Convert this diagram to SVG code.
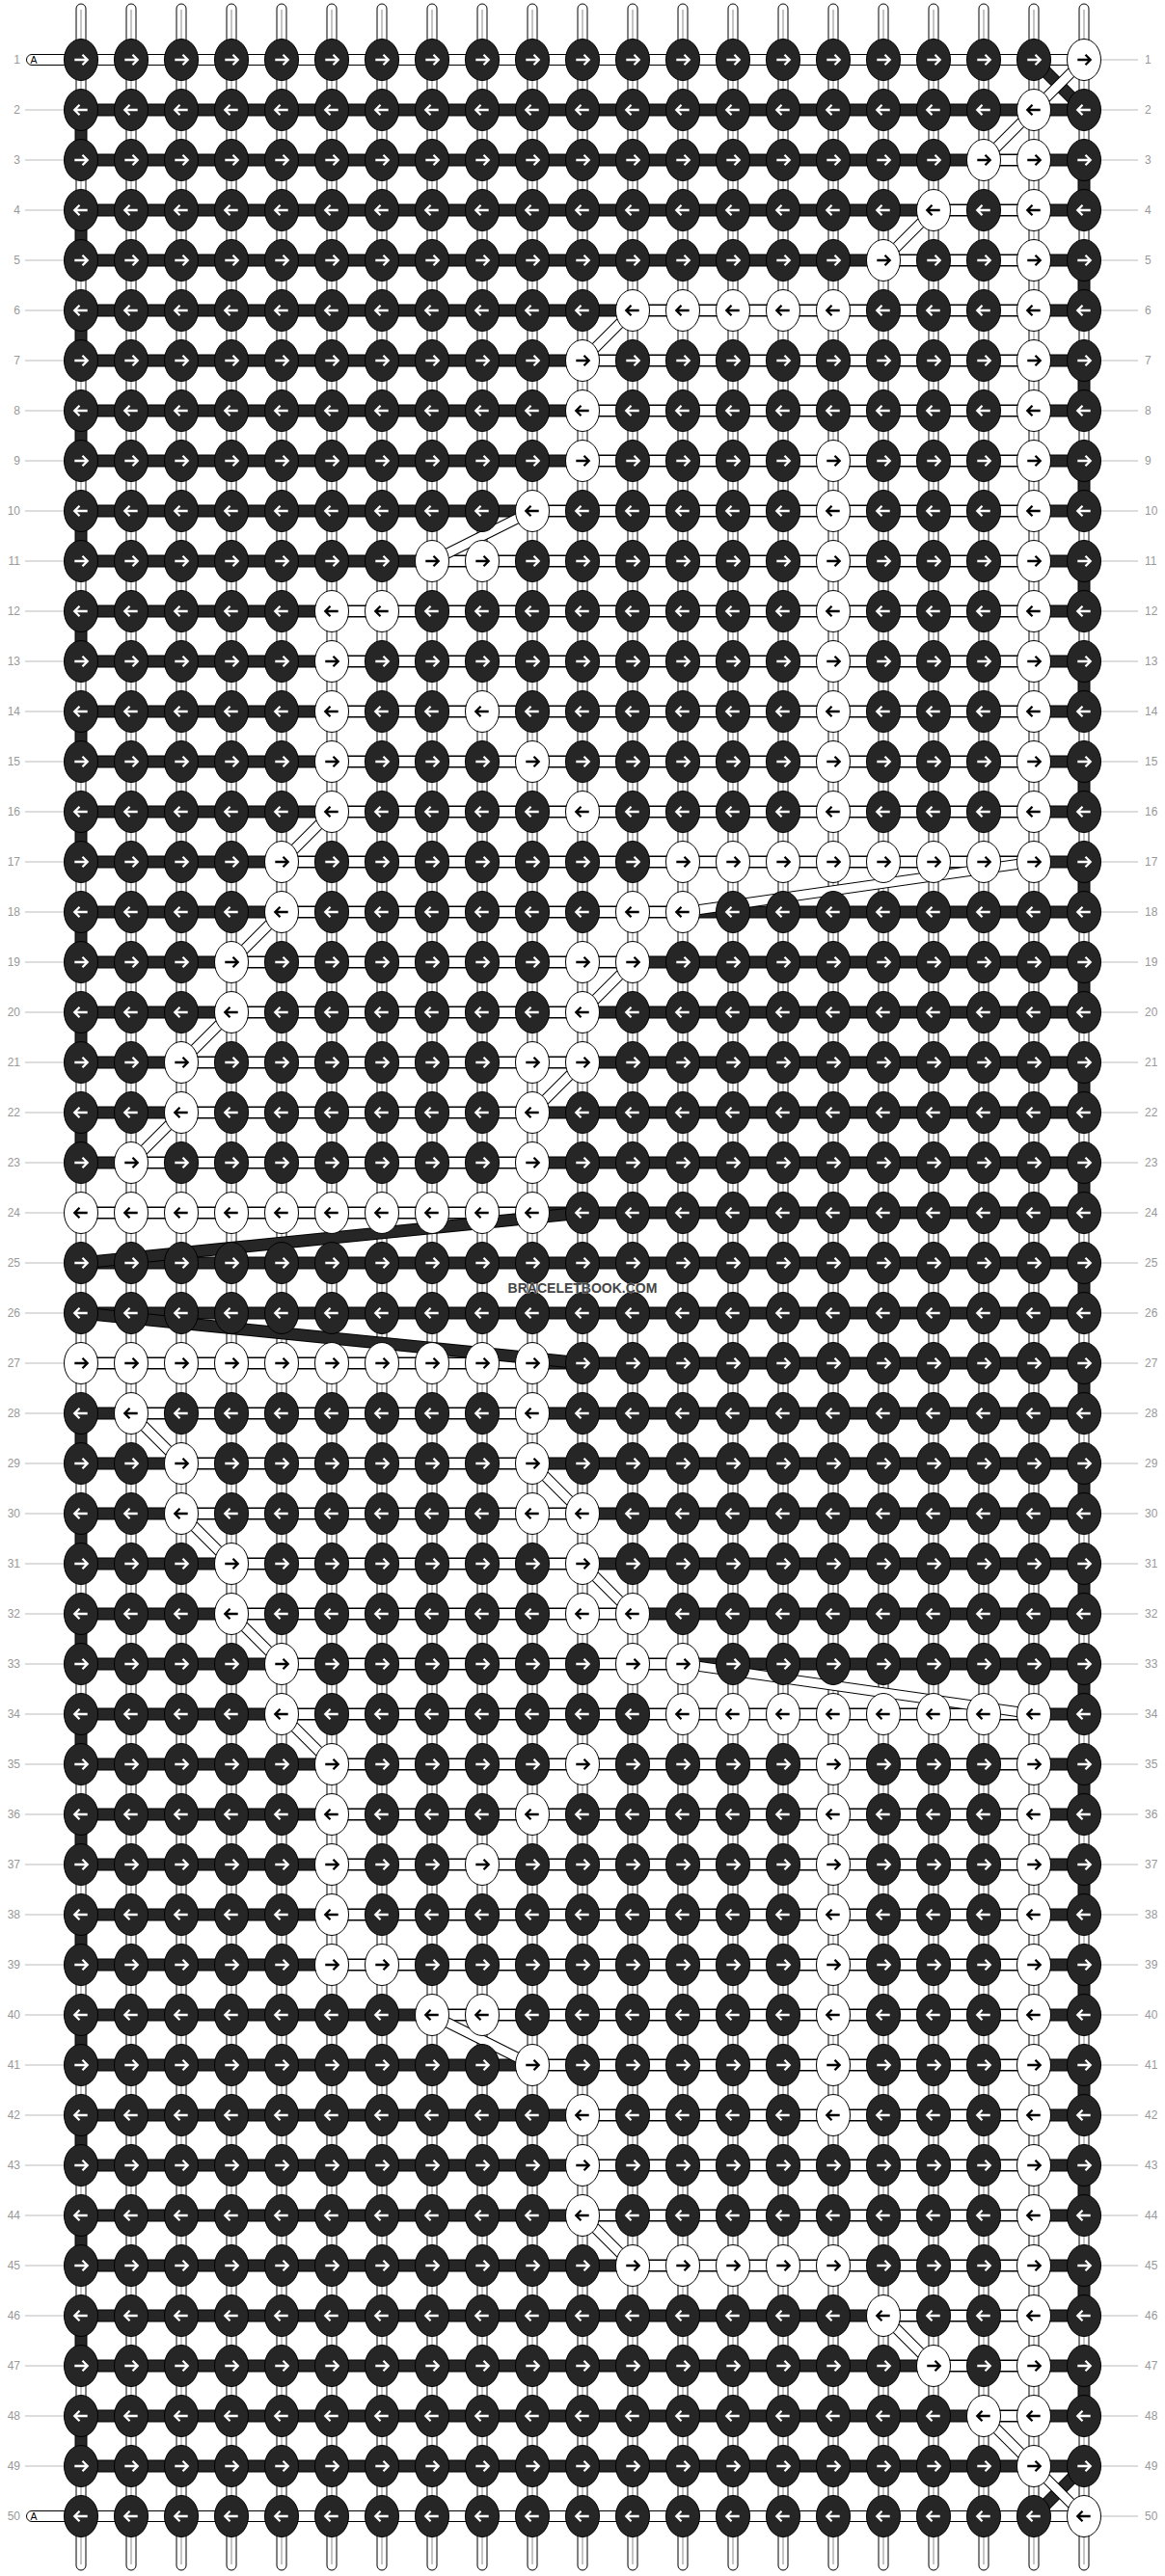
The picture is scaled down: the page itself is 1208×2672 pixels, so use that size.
<svg xmlns="http://www.w3.org/2000/svg" xmlns:xlink="http://www.w3.org/1999/xlink" width="1208" height="2672" viewBox="0 0 1208 2672">
<style>
.lbl{font-family:"Liberation Sans",Arial,sans-serif;font-size:12px;fill:#999}
.lr{text-anchor:end}
.gl{stroke:#bbb;stroke-width:1}
.kb{fill:#262626;stroke:#000;stroke-width:1}
.kw{fill:#fff;stroke:#000;stroke-width:1}
.aw{fill:none;stroke:#fff;stroke-width:2.3}
.ab{fill:none;stroke:#000;stroke-width:2.3}
.vs{fill:#fff;stroke:#000;stroke-width:1}
.vg{stroke:#c4c4c4;stroke-width:2}
.hb{fill:#262626;stroke:#000;stroke-width:1}
.hw{fill:#fff;stroke:#000;stroke-width:1}
.eb{fill:#262626;stroke:#000;stroke-width:1}
.dbo{stroke:#000;stroke-width:13;fill:none}
.dbi{stroke:#262626;stroke-width:11;fill:none}
.dwo{stroke:#000;stroke-width:11;fill:none}
.dwi{stroke:#fff;stroke-width:9;fill:none}
</style>
<defs>
<g id="bR"><ellipse rx="17.5" ry="21.5" class="kb"/><path d="M-6.7 0H6.2M1.5-5.2L6.7 0L1.5 5.2" class="aw"/></g>
<g id="bL"><ellipse rx="17.5" ry="21.5" class="kb"/><path d="M6.7 0H-6.2M-1.5-5.2L-6.7 0L-1.5 5.2" class="aw"/></g>
<g id="wR"><ellipse rx="17.5" ry="21.5" class="kw"/><path d="M-6.7 0H6.2M1.5-5.2L6.7 0L1.5 5.2" class="ab"/></g>
<g id="wL"><ellipse rx="17.5" ry="21.5" class="kw"/><path d="M6.7 0H-6.2M-1.5-5.2L-6.7 0L-1.5 5.2" class="ab"/></g>
</defs>
<rect width="1208" height="2672" fill="#fff"/>
<g id="labels">
<rect x="27.5" y="56.5" width="50" height="11" rx="5.5" class="hw"/>
<text x="31.5" y="66" font-family="Liberation Sans,Arial,sans-serif" font-size="10.5" fill="#000">A</text>
<rect x="27.5" y="2604.5" width="50" height="11" rx="5.5" class="hw"/>
<text x="31.5" y="2614" font-family="Liberation Sans,Arial,sans-serif" font-size="10.5" fill="#000">A</text>
<g class="gl">
<path d="M26 114H66M26 166H66M26 218H66M26 270H66M26 322H66M26 374H66M26 426H66M26 478H66M26 530H66M26 582H66M26 634H66M26 686H66M26 738H66M26 790H66M26 842H66M26 894H66M26 946H66M26 998H66M26 1050H66M26 1102H66M26 1154H66M26 1206H66M26 1258H66M26 1310H66M26 1362H66M26 1414H66M26 1466H66M26 1518H66M26 1570H66M26 1622H66M26 1674H66M26 1726H66M26 1778H66M26 1830H66M26 1882H66M26 1934H66M26 1986H66M26 2038H66M26 2090H66M26 2142H66M26 2194H66M26 2246H66M26 2298H66M26 2350H66M26 2402H66M26 2454H66M26 2506H66M26 2558H66"/>
<path d="M1142 62H1180M1142 114H1180M1142 166H1180M1142 218H1180M1142 270H1180M1142 322H1180M1142 374H1180M1142 426H1180M1142 478H1180M1142 530H1180M1142 582H1180M1142 634H1180M1142 686H1180M1142 738H1180M1142 790H1180M1142 842H1180M1142 894H1180M1142 946H1180M1142 998H1180M1142 1050H1180M1142 1102H1180M1142 1154H1180M1142 1206H1180M1142 1258H1180M1142 1310H1180M1142 1362H1180M1142 1414H1180M1142 1466H1180M1142 1518H1180M1142 1570H1180M1142 1622H1180M1142 1674H1180M1142 1726H1180M1142 1778H1180M1142 1830H1180M1142 1882H1180M1142 1934H1180M1142 1986H1180M1142 2038H1180M1142 2090H1180M1142 2142H1180M1142 2194H1180M1142 2246H1180M1142 2298H1180M1142 2350H1180M1142 2402H1180M1142 2454H1180M1142 2506H1180M1142 2558H1180M1142 2610H1180"/>
</g>
<g class="lbl lr">
<text x="21" y="66">1</text><text x="21" y="118">2</text><text x="21" y="170">3</text><text x="21" y="222">4</text><text x="21" y="274">5</text><text x="21" y="326">6</text><text x="21" y="378">7</text><text x="21" y="430">8</text><text x="21" y="482">9</text><text x="21" y="534">10</text>
<text x="21" y="586">11</text><text x="21" y="638">12</text><text x="21" y="690">13</text><text x="21" y="742">14</text><text x="21" y="794">15</text><text x="21" y="846">16</text><text x="21" y="898">17</text><text x="21" y="950">18</text><text x="21" y="1002">19</text><text x="21" y="1054">20</text>
<text x="21" y="1106">21</text><text x="21" y="1158">22</text><text x="21" y="1210">23</text><text x="21" y="1262">24</text><text x="21" y="1314">25</text><text x="21" y="1366">26</text><text x="21" y="1418">27</text><text x="21" y="1470">28</text><text x="21" y="1522">29</text><text x="21" y="1574">30</text>
<text x="21" y="1626">31</text><text x="21" y="1678">32</text><text x="21" y="1730">33</text><text x="21" y="1782">34</text><text x="21" y="1834">35</text><text x="21" y="1886">36</text><text x="21" y="1938">37</text><text x="21" y="1990">38</text><text x="21" y="2042">39</text><text x="21" y="2094">40</text>
<text x="21" y="2146">41</text><text x="21" y="2198">42</text><text x="21" y="2250">43</text><text x="21" y="2302">44</text><text x="21" y="2354">45</text><text x="21" y="2406">46</text><text x="21" y="2458">47</text><text x="21" y="2510">48</text><text x="21" y="2562">49</text><text x="21" y="2614">50</text>
</g>
<g class="lbl">
<text x="1187" y="66">1</text><text x="1187" y="118">2</text><text x="1187" y="170">3</text><text x="1187" y="222">4</text><text x="1187" y="274">5</text><text x="1187" y="326">6</text><text x="1187" y="378">7</text><text x="1187" y="430">8</text><text x="1187" y="482">9</text><text x="1187" y="534">10</text>
<text x="1187" y="586">11</text><text x="1187" y="638">12</text><text x="1187" y="690">13</text><text x="1187" y="742">14</text><text x="1187" y="794">15</text><text x="1187" y="846">16</text><text x="1187" y="898">17</text><text x="1187" y="950">18</text><text x="1187" y="1002">19</text><text x="1187" y="1054">20</text>
<text x="1187" y="1106">21</text><text x="1187" y="1158">22</text><text x="1187" y="1210">23</text><text x="1187" y="1262">24</text><text x="1187" y="1314">25</text><text x="1187" y="1366">26</text><text x="1187" y="1418">27</text><text x="1187" y="1470">28</text><text x="1187" y="1522">29</text><text x="1187" y="1574">30</text>
<text x="1187" y="1626">31</text><text x="1187" y="1678">32</text><text x="1187" y="1730">33</text><text x="1187" y="1782">34</text><text x="1187" y="1834">35</text><text x="1187" y="1886">36</text><text x="1187" y="1938">37</text><text x="1187" y="1990">38</text><text x="1187" y="2042">39</text><text x="1187" y="2094">40</text>
<text x="1187" y="2146">41</text><text x="1187" y="2198">42</text><text x="1187" y="2250">43</text><text x="1187" y="2302">44</text><text x="1187" y="2354">45</text><text x="1187" y="2406">46</text><text x="1187" y="2458">47</text><text x="1187" y="2510">48</text><text x="1187" y="2562">49</text><text x="1187" y="2614">50</text>
</g>
</g>
<g id="connectors">
<g id="strands">
<rect x="79" y="4" width="10" height="2662" rx="5" class="vs"/><rect x="131" y="4" width="10" height="2662" rx="5" class="vs"/><rect x="183" y="4" width="10" height="2662" rx="5" class="vs"/><rect x="235" y="4" width="10" height="2662" rx="5" class="vs"/><rect x="287" y="4" width="10" height="2662" rx="5" class="vs"/><rect x="339" y="4" width="10" height="2662" rx="5" class="vs"/><rect x="391" y="4" width="10" height="2662" rx="5" class="vs"/>
<rect x="443" y="4" width="10" height="2662" rx="5" class="vs"/><rect x="495" y="4" width="10" height="2662" rx="5" class="vs"/><rect x="547" y="4" width="10" height="2662" rx="5" class="vs"/><rect x="599" y="4" width="10" height="2662" rx="5" class="vs"/><rect x="651" y="4" width="10" height="2662" rx="5" class="vs"/><rect x="703" y="4" width="10" height="2662" rx="5" class="vs"/><rect x="755" y="4" width="10" height="2662" rx="5" class="vs"/>
<rect x="807" y="4" width="10" height="2662" rx="5" class="vs"/><rect x="859" y="4" width="10" height="2662" rx="5" class="vs"/><rect x="911" y="4" width="10" height="2662" rx="5" class="vs"/><rect x="963" y="4" width="10" height="2662" rx="5" class="vs"/><rect x="1015" y="4" width="10" height="2662" rx="5" class="vs"/><rect x="1067" y="4" width="10" height="2662" rx="5" class="vs"/><rect x="1119" y="4" width="10" height="2662" rx="5" class="vs"/>
<path class="vg" d="M84 10V2660M136 10V2660M188 10V2660M240 10V2660M292 10V2660M344 10V2660M396 10V2660M448 10V2660M500 10V2660M552 10V2660M604 10V2660M656 10V2660M708 10V2660M760 10V2660M812 10V2660M864 10V2660M916 10V2660M968 10V2660M1020 10V2660M1072 10V2660M1124 10V2660"/>
</g>
<g id="rowthreads">
<rect x="84" y="108" width="1040" height="12" class="hb"/><rect x="84" y="160" width="1040" height="12" class="hb"/><rect x="84" y="212" width="1040" height="12" class="hb"/><rect x="84" y="264" width="1040" height="12" class="hb"/><rect x="84" y="316" width="1040" height="12" class="hb"/><rect x="84" y="368" width="1040" height="12" class="hb"/><rect x="84" y="420" width="1040" height="12" class="hb"/><rect x="84" y="472" width="1040" height="12" class="hb"/>
<rect x="84" y="524" width="1040" height="12" class="hb"/><rect x="84" y="576" width="1040" height="12" class="hb"/><rect x="84" y="628" width="1040" height="12" class="hb"/><rect x="84" y="680" width="1040" height="12" class="hb"/><rect x="84" y="732" width="1040" height="12" class="hb"/><rect x="84" y="784" width="1040" height="12" class="hb"/><rect x="84" y="836" width="1040" height="12" class="hb"/><rect x="84" y="888" width="1040" height="12" class="hb"/>
<rect x="84" y="940" width="1040" height="12" class="hb"/><rect x="84" y="992" width="1040" height="12" class="hb"/><rect x="84" y="1044" width="1040" height="12" class="hb"/><rect x="84" y="1096" width="1040" height="12" class="hb"/><rect x="84" y="1148" width="1040" height="12" class="hb"/><rect x="84" y="1200" width="1040" height="12" class="hb"/><rect x="84" y="1252" width="1040" height="12" class="hb"/><rect x="84" y="1304" width="1040" height="12" class="hb"/>
<rect x="84" y="1356" width="1040" height="12" class="hb"/><rect x="84" y="1408" width="1040" height="12" class="hb"/><rect x="84" y="1460" width="1040" height="12" class="hb"/><rect x="84" y="1512" width="1040" height="12" class="hb"/><rect x="84" y="1564" width="1040" height="12" class="hb"/><rect x="84" y="1616" width="1040" height="12" class="hb"/><rect x="84" y="1668" width="1040" height="12" class="hb"/><rect x="84" y="1720" width="1040" height="12" class="hb"/>
<rect x="84" y="1772" width="1040" height="12" class="hb"/><rect x="84" y="1824" width="1040" height="12" class="hb"/><rect x="84" y="1876" width="1040" height="12" class="hb"/><rect x="84" y="1928" width="1040" height="12" class="hb"/><rect x="84" y="1980" width="1040" height="12" class="hb"/><rect x="84" y="2032" width="1040" height="12" class="hb"/><rect x="84" y="2084" width="1040" height="12" class="hb"/><rect x="84" y="2136" width="1040" height="12" class="hb"/>
<rect x="84" y="2188" width="1040" height="12" class="hb"/><rect x="84" y="2240" width="1040" height="12" class="hb"/><rect x="84" y="2292" width="1040" height="12" class="hb"/><rect x="84" y="2344" width="1040" height="12" class="hb"/><rect x="84" y="2396" width="1040" height="12" class="hb"/><rect x="84" y="2448" width="1040" height="12" class="hb"/><rect x="84" y="2500" width="1040" height="12" class="hb"/><rect x="84" y="2552" width="1040" height="12" class="hb"/>
<rect x="84" y="56.5" width="1040" height="11" class="hw"/>
<rect x="1020" y="160.5" width="52" height="11" class="hw"/>
<rect x="968" y="212.5" width="104" height="11" class="hw"/>
<rect x="916" y="264.5" width="156" height="11" class="hw"/>
<rect x="656" y="316.5" width="416" height="11" class="hw"/>
<rect x="604" y="368.5" width="468" height="11" class="hw"/>
<rect x="604" y="420.5" width="468" height="11" class="hw"/>
<rect x="604" y="472.5" width="468" height="11" class="hw"/>
<rect x="552" y="524.5" width="520" height="11" class="hw"/>
<rect x="448" y="576.5" width="624" height="11" class="hw"/>
<rect x="344" y="628.5" width="728" height="11" class="hw"/>
<rect x="344" y="680.5" width="728" height="11" class="hw"/>
<rect x="344" y="732.5" width="728" height="11" class="hw"/>
<rect x="344" y="784.5" width="728" height="11" class="hw"/>
<rect x="344" y="836.5" width="728" height="11" class="hw"/>
<rect x="292" y="888.5" width="780" height="11" class="hw"/>
<rect x="292" y="940.5" width="416" height="11" class="hw"/>
<rect x="240" y="992.5" width="416" height="11" class="hw"/>
<rect x="240" y="1044.5" width="364" height="11" class="hw"/>
<rect x="188" y="1096.5" width="416" height="11" class="hw"/>
<rect x="188" y="1148.5" width="364" height="11" class="hw"/>
<rect x="136" y="1200.5" width="416" height="11" class="hw"/>
<rect x="84" y="1252.5" width="468" height="11" class="hw"/>
<rect x="84" y="1408.5" width="468" height="11" class="hw"/>
<rect x="136" y="1460.5" width="416" height="11" class="hw"/>
<rect x="188" y="1512.5" width="364" height="11" class="hw"/>
<rect x="188" y="1564.5" width="416" height="11" class="hw"/>
<rect x="240" y="1616.5" width="364" height="11" class="hw"/>
<rect x="240" y="1668.5" width="416" height="11" class="hw"/>
<rect x="292" y="1720.5" width="416" height="11" class="hw"/>
<rect x="292" y="1772.5" width="780" height="11" class="hw"/>
<rect x="344" y="1824.5" width="728" height="11" class="hw"/>
<rect x="344" y="1876.5" width="728" height="11" class="hw"/>
<rect x="344" y="1928.5" width="728" height="11" class="hw"/>
<rect x="344" y="1980.5" width="728" height="11" class="hw"/>
<rect x="344" y="2032.5" width="728" height="11" class="hw"/>
<rect x="448" y="2084.5" width="624" height="11" class="hw"/>
<rect x="552" y="2136.5" width="520" height="11" class="hw"/>
<rect x="604" y="2188.5" width="468" height="11" class="hw"/>
<rect x="604" y="2240.5" width="468" height="11" class="hw"/>
<rect x="604" y="2292.5" width="468" height="11" class="hw"/>
<rect x="656" y="2344.5" width="416" height="11" class="hw"/>
<rect x="916" y="2396.5" width="156" height="11" class="hw"/>
<rect x="968" y="2448.5" width="104" height="11" class="hw"/>
<rect x="1020" y="2500.5" width="52" height="11" class="hw"/>
<rect x="84" y="2604.5" width="1040" height="11" class="hw"/>
</g>
<g id="edgeturns">
<rect x="78" y="114" width="12" height="52" class="eb"/><rect x="78" y="218" width="12" height="52" class="eb"/><rect x="78" y="322" width="12" height="52" class="eb"/><rect x="78" y="426" width="12" height="52" class="eb"/><rect x="78" y="530" width="12" height="52" class="eb"/><rect x="78" y="634" width="12" height="52" class="eb"/><rect x="78" y="738" width="12" height="52" class="eb"/><rect x="78" y="842" width="12" height="52" class="eb"/><rect x="78" y="946" width="12" height="52" class="eb"/><rect x="78" y="1050" width="12" height="52" class="eb"/><rect x="78" y="1154" width="12" height="52" class="eb"/>
<rect x="78" y="1466" width="12" height="52" class="eb"/><rect x="78" y="1570" width="12" height="52" class="eb"/><rect x="78" y="1674" width="12" height="52" class="eb"/><rect x="78" y="1778" width="12" height="52" class="eb"/><rect x="78" y="1882" width="12" height="52" class="eb"/><rect x="78" y="1986" width="12" height="52" class="eb"/><rect x="78" y="2090" width="12" height="52" class="eb"/><rect x="78" y="2194" width="12" height="52" class="eb"/><rect x="78" y="2298" width="12" height="52" class="eb"/><rect x="78" y="2402" width="12" height="52" class="eb"/><rect x="78" y="2506" width="12" height="52" class="eb"/>
<rect x="1118" y="166" width="12" height="52" class="eb"/><rect x="1118" y="270" width="12" height="52" class="eb"/><rect x="1118" y="374" width="12" height="52" class="eb"/><rect x="1118" y="478" width="12" height="52" class="eb"/><rect x="1118" y="582" width="12" height="52" class="eb"/><rect x="1118" y="686" width="12" height="52" class="eb"/><rect x="1118" y="790" width="12" height="52" class="eb"/><rect x="1118" y="894" width="12" height="52" class="eb"/><rect x="1118" y="998" width="12" height="52" class="eb"/><rect x="1118" y="1102" width="12" height="52" class="eb"/><rect x="1118" y="1206" width="12" height="52" class="eb"/><rect x="1118" y="1310" width="12" height="52" class="eb"/>
<rect x="1118" y="1414" width="12" height="52" class="eb"/><rect x="1118" y="1518" width="12" height="52" class="eb"/><rect x="1118" y="1622" width="12" height="52" class="eb"/><rect x="1118" y="1726" width="12" height="52" class="eb"/><rect x="1118" y="1830" width="12" height="52" class="eb"/><rect x="1118" y="1934" width="12" height="52" class="eb"/><rect x="1118" y="2038" width="12" height="52" class="eb"/><rect x="1118" y="2142" width="12" height="52" class="eb"/><rect x="1118" y="2246" width="12" height="52" class="eb"/><rect x="1118" y="2350" width="12" height="52" class="eb"/><rect x="1118" y="2454" width="12" height="52" class="eb"/>
</g>
<g id="blackjumps">
<path class="dbo" d="M1072 62L1124 114M604 1258L84 1310M84 1362L604 1414M1072 2610L1124 2558"/>
<path class="dbi" d="M1072 62L1124 114M604 1258L84 1310M84 1362L604 1414M1072 2610L1124 2558"/>
</g>
<g id="whitejumps">
<path class="dwo" d="M1124 62L1072 114M1072 114L1020 166M968 218L916 270M656 322L604 374M552 530L448 582M344 842L292 894M292 946L240 998M240 1050L188 1102M188 1154L136 1206M1072 894L708 946M656 998L604 1050M604 1102L552 1154"/>
<path class="dwi" d="M1124 62L1072 114M1072 114L1020 166M968 218L916 270M656 322L604 374M552 530L448 582M344 842L292 894M292 946L240 998M240 1050L188 1102M188 1154L136 1206M1072 894L708 946M656 998L604 1050M604 1102L552 1154"/>
<path class="dwo" d="M1124 2610L1072 2558M1072 2558L1020 2506M968 2454L916 2402M656 2350L604 2298M552 2142L448 2090M344 1830L292 1778M292 1726L240 1674M240 1622L188 1570M188 1518L136 1466M1072 1778L708 1726M656 1674L604 1622M604 1570L552 1518"/>
<path class="dwi" d="M1124 2610L1072 2558M1072 2558L1020 2506M968 2454L916 2402M656 2350L604 2298M552 2142L448 2090M344 1830L292 1778M292 1726L240 1674M240 1622L188 1570M188 1518L136 1466M1072 1778L708 1726M656 1674L604 1622M604 1570L552 1518"/>
</g>
</g>
<g id="knots">
<g id="row1" transform="translate(0 62)"><use id="k1_1" href="#bR" x="84"/><use id="k1_2" href="#bR" x="136"/><use id="k1_3" href="#bR" x="188"/><use id="k1_4" href="#bR" x="240"/><use id="k1_5" href="#bR" x="292"/><use id="k1_6" href="#bR" x="344"/><use id="k1_7" href="#bR" x="396"/><use id="k1_8" href="#bR" x="448"/><use id="k1_9" href="#bR" x="500"/><use id="k1_10" href="#bR" x="552"/><use id="k1_11" href="#bR" x="604"/><use id="k1_12" href="#bR" x="656"/><use id="k1_13" href="#bR" x="708"/><use id="k1_14" href="#bR" x="760"/><use id="k1_15" href="#bR" x="812"/><use id="k1_16" href="#bR" x="864"/><use id="k1_17" href="#bR" x="916"/><use id="k1_18" href="#bR" x="968"/><use id="k1_19" href="#bR" x="1020"/><use id="k1_20" href="#bR" x="1072"/><use id="k1_21" href="#wR" x="1124"/></g>
<g id="row2" transform="translate(0 114)"><use id="k2_1" href="#bL" x="84"/><use id="k2_2" href="#bL" x="136"/><use id="k2_3" href="#bL" x="188"/><use id="k2_4" href="#bL" x="240"/><use id="k2_5" href="#bL" x="292"/><use id="k2_6" href="#bL" x="344"/><use id="k2_7" href="#bL" x="396"/><use id="k2_8" href="#bL" x="448"/><use id="k2_9" href="#bL" x="500"/><use id="k2_10" href="#bL" x="552"/><use id="k2_11" href="#bL" x="604"/><use id="k2_12" href="#bL" x="656"/><use id="k2_13" href="#bL" x="708"/><use id="k2_14" href="#bL" x="760"/><use id="k2_15" href="#bL" x="812"/><use id="k2_16" href="#bL" x="864"/><use id="k2_17" href="#bL" x="916"/><use id="k2_18" href="#bL" x="968"/><use id="k2_19" href="#bL" x="1020"/><use id="k2_20" href="#wL" x="1072"/><use id="k2_21" href="#bL" x="1124"/></g>
<g id="row3" transform="translate(0 166)"><use id="k3_1" href="#bR" x="84"/><use id="k3_2" href="#bR" x="136"/><use id="k3_3" href="#bR" x="188"/><use id="k3_4" href="#bR" x="240"/><use id="k3_5" href="#bR" x="292"/><use id="k3_6" href="#bR" x="344"/><use id="k3_7" href="#bR" x="396"/><use id="k3_8" href="#bR" x="448"/><use id="k3_9" href="#bR" x="500"/><use id="k3_10" href="#bR" x="552"/><use id="k3_11" href="#bR" x="604"/><use id="k3_12" href="#bR" x="656"/><use id="k3_13" href="#bR" x="708"/><use id="k3_14" href="#bR" x="760"/><use id="k3_15" href="#bR" x="812"/><use id="k3_16" href="#bR" x="864"/><use id="k3_17" href="#bR" x="916"/><use id="k3_18" href="#bR" x="968"/><use id="k3_19" href="#wR" x="1020"/><use id="k3_20" href="#wR" x="1072"/><use id="k3_21" href="#bR" x="1124"/></g>
<g id="row4" transform="translate(0 218)"><use id="k4_1" href="#bL" x="84"/><use id="k4_2" href="#bL" x="136"/><use id="k4_3" href="#bL" x="188"/><use id="k4_4" href="#bL" x="240"/><use id="k4_5" href="#bL" x="292"/><use id="k4_6" href="#bL" x="344"/><use id="k4_7" href="#bL" x="396"/><use id="k4_8" href="#bL" x="448"/><use id="k4_9" href="#bL" x="500"/><use id="k4_10" href="#bL" x="552"/><use id="k4_11" href="#bL" x="604"/><use id="k4_12" href="#bL" x="656"/><use id="k4_13" href="#bL" x="708"/><use id="k4_14" href="#bL" x="760"/><use id="k4_15" href="#bL" x="812"/><use id="k4_16" href="#bL" x="864"/><use id="k4_17" href="#bL" x="916"/><use id="k4_18" href="#wL" x="968"/><use id="k4_19" href="#bL" x="1020"/><use id="k4_20" href="#wL" x="1072"/><use id="k4_21" href="#bL" x="1124"/></g>
<g id="row5" transform="translate(0 270)"><use id="k5_1" href="#bR" x="84"/><use id="k5_2" href="#bR" x="136"/><use id="k5_3" href="#bR" x="188"/><use id="k5_4" href="#bR" x="240"/><use id="k5_5" href="#bR" x="292"/><use id="k5_6" href="#bR" x="344"/><use id="k5_7" href="#bR" x="396"/><use id="k5_8" href="#bR" x="448"/><use id="k5_9" href="#bR" x="500"/><use id="k5_10" href="#bR" x="552"/><use id="k5_11" href="#bR" x="604"/><use id="k5_12" href="#bR" x="656"/><use id="k5_13" href="#bR" x="708"/><use id="k5_14" href="#bR" x="760"/><use id="k5_15" href="#bR" x="812"/><use id="k5_16" href="#bR" x="864"/><use id="k5_17" href="#wR" x="916"/><use id="k5_18" href="#bR" x="968"/><use id="k5_19" href="#bR" x="1020"/><use id="k5_20" href="#wR" x="1072"/><use id="k5_21" href="#bR" x="1124"/></g>
<g id="row6" transform="translate(0 322)"><use id="k6_1" href="#bL" x="84"/><use id="k6_2" href="#bL" x="136"/><use id="k6_3" href="#bL" x="188"/><use id="k6_4" href="#bL" x="240"/><use id="k6_5" href="#bL" x="292"/><use id="k6_6" href="#bL" x="344"/><use id="k6_7" href="#bL" x="396"/><use id="k6_8" href="#bL" x="448"/><use id="k6_9" href="#bL" x="500"/><use id="k6_10" href="#bL" x="552"/><use id="k6_11" href="#bL" x="604"/><use id="k6_12" href="#wL" x="656"/><use id="k6_13" href="#wL" x="708"/><use id="k6_14" href="#wL" x="760"/><use id="k6_15" href="#wL" x="812"/><use id="k6_16" href="#wL" x="864"/><use id="k6_17" href="#bL" x="916"/><use id="k6_18" href="#bL" x="968"/><use id="k6_19" href="#bL" x="1020"/><use id="k6_20" href="#wL" x="1072"/><use id="k6_21" href="#bL" x="1124"/></g>
<g id="row7" transform="translate(0 374)"><use id="k7_1" href="#bR" x="84"/><use id="k7_2" href="#bR" x="136"/><use id="k7_3" href="#bR" x="188"/><use id="k7_4" href="#bR" x="240"/><use id="k7_5" href="#bR" x="292"/><use id="k7_6" href="#bR" x="344"/><use id="k7_7" href="#bR" x="396"/><use id="k7_8" href="#bR" x="448"/><use id="k7_9" href="#bR" x="500"/><use id="k7_10" href="#bR" x="552"/><use id="k7_11" href="#wR" x="604"/><use id="k7_12" href="#bR" x="656"/><use id="k7_13" href="#bR" x="708"/><use id="k7_14" href="#bR" x="760"/><use id="k7_15" href="#bR" x="812"/><use id="k7_16" href="#bR" x="864"/><use id="k7_17" href="#bR" x="916"/><use id="k7_18" href="#bR" x="968"/><use id="k7_19" href="#bR" x="1020"/><use id="k7_20" href="#wR" x="1072"/><use id="k7_21" href="#bR" x="1124"/></g>
<g id="row8" transform="translate(0 426)"><use id="k8_1" href="#bL" x="84"/><use id="k8_2" href="#bL" x="136"/><use id="k8_3" href="#bL" x="188"/><use id="k8_4" href="#bL" x="240"/><use id="k8_5" href="#bL" x="292"/><use id="k8_6" href="#bL" x="344"/><use id="k8_7" href="#bL" x="396"/><use id="k8_8" href="#bL" x="448"/><use id="k8_9" href="#bL" x="500"/><use id="k8_10" href="#bL" x="552"/><use id="k8_11" href="#wL" x="604"/><use id="k8_12" href="#bL" x="656"/><use id="k8_13" href="#bL" x="708"/><use id="k8_14" href="#bL" x="760"/><use id="k8_15" href="#bL" x="812"/><use id="k8_16" href="#bL" x="864"/><use id="k8_17" href="#bL" x="916"/><use id="k8_18" href="#bL" x="968"/><use id="k8_19" href="#bL" x="1020"/><use id="k8_20" href="#wL" x="1072"/><use id="k8_21" href="#bL" x="1124"/></g>
<g id="row9" transform="translate(0 478)"><use id="k9_1" href="#bR" x="84"/><use id="k9_2" href="#bR" x="136"/><use id="k9_3" href="#bR" x="188"/><use id="k9_4" href="#bR" x="240"/><use id="k9_5" href="#bR" x="292"/><use id="k9_6" href="#bR" x="344"/><use id="k9_7" href="#bR" x="396"/><use id="k9_8" href="#bR" x="448"/><use id="k9_9" href="#bR" x="500"/><use id="k9_10" href="#bR" x="552"/><use id="k9_11" href="#wR" x="604"/><use id="k9_12" href="#bR" x="656"/><use id="k9_13" href="#bR" x="708"/><use id="k9_14" href="#bR" x="760"/><use id="k9_15" href="#bR" x="812"/><use id="k9_16" href="#wR" x="864"/><use id="k9_17" href="#bR" x="916"/><use id="k9_18" href="#bR" x="968"/><use id="k9_19" href="#bR" x="1020"/><use id="k9_20" href="#wR" x="1072"/><use id="k9_21" href="#bR" x="1124"/></g>
<g id="row10" transform="translate(0 530)"><use id="k10_1" href="#bL" x="84"/><use id="k10_2" href="#bL" x="136"/><use id="k10_3" href="#bL" x="188"/><use id="k10_4" href="#bL" x="240"/><use id="k10_5" href="#bL" x="292"/><use id="k10_6" href="#bL" x="344"/><use id="k10_7" href="#bL" x="396"/><use id="k10_8" href="#bL" x="448"/><use id="k10_9" href="#bL" x="500"/><use id="k10_10" href="#wL" x="552"/><use id="k10_11" href="#bL" x="604"/><use id="k10_12" href="#bL" x="656"/><use id="k10_13" href="#bL" x="708"/><use id="k10_14" href="#bL" x="760"/><use id="k10_15" href="#bL" x="812"/><use id="k10_16" href="#wL" x="864"/><use id="k10_17" href="#bL" x="916"/><use id="k10_18" href="#bL" x="968"/><use id="k10_19" href="#bL" x="1020"/><use id="k10_20" href="#wL" x="1072"/><use id="k10_21" href="#bL" x="1124"/></g>
<g id="row11" transform="translate(0 582)"><use id="k11_1" href="#bR" x="84"/><use id="k11_2" href="#bR" x="136"/><use id="k11_3" href="#bR" x="188"/><use id="k11_4" href="#bR" x="240"/><use id="k11_5" href="#bR" x="292"/><use id="k11_6" href="#bR" x="344"/><use id="k11_7" href="#bR" x="396"/><use id="k11_8" href="#wR" x="448"/><use id="k11_9" href="#wR" x="500"/><use id="k11_10" href="#bR" x="552"/><use id="k11_11" href="#bR" x="604"/><use id="k11_12" href="#bR" x="656"/><use id="k11_13" href="#bR" x="708"/><use id="k11_14" href="#bR" x="760"/><use id="k11_15" href="#bR" x="812"/><use id="k11_16" href="#wR" x="864"/><use id="k11_17" href="#bR" x="916"/><use id="k11_18" href="#bR" x="968"/><use id="k11_19" href="#bR" x="1020"/><use id="k11_20" href="#wR" x="1072"/><use id="k11_21" href="#bR" x="1124"/></g>
<g id="row12" transform="translate(0 634)"><use id="k12_1" href="#bL" x="84"/><use id="k12_2" href="#bL" x="136"/><use id="k12_3" href="#bL" x="188"/><use id="k12_4" href="#bL" x="240"/><use id="k12_5" href="#bL" x="292"/><use id="k12_6" href="#wL" x="344"/><use id="k12_7" href="#wL" x="396"/><use id="k12_8" href="#bL" x="448"/><use id="k12_9" href="#bL" x="500"/><use id="k12_10" href="#bL" x="552"/><use id="k12_11" href="#bL" x="604"/><use id="k12_12" href="#bL" x="656"/><use id="k12_13" href="#bL" x="708"/><use id="k12_14" href="#bL" x="760"/><use id="k12_15" href="#bL" x="812"/><use id="k12_16" href="#wL" x="864"/><use id="k12_17" href="#bL" x="916"/><use id="k12_18" href="#bL" x="968"/><use id="k12_19" href="#bL" x="1020"/><use id="k12_20" href="#wL" x="1072"/><use id="k12_21" href="#bL" x="1124"/></g>
<g id="row13" transform="translate(0 686)"><use id="k13_1" href="#bR" x="84"/><use id="k13_2" href="#bR" x="136"/><use id="k13_3" href="#bR" x="188"/><use id="k13_4" href="#bR" x="240"/><use id="k13_5" href="#bR" x="292"/><use id="k13_6" href="#wR" x="344"/><use id="k13_7" href="#bR" x="396"/><use id="k13_8" href="#bR" x="448"/><use id="k13_9" href="#bR" x="500"/><use id="k13_10" href="#bR" x="552"/><use id="k13_11" href="#bR" x="604"/><use id="k13_12" href="#bR" x="656"/><use id="k13_13" href="#bR" x="708"/><use id="k13_14" href="#bR" x="760"/><use id="k13_15" href="#bR" x="812"/><use id="k13_16" href="#wR" x="864"/><use id="k13_17" href="#bR" x="916"/><use id="k13_18" href="#bR" x="968"/><use id="k13_19" href="#bR" x="1020"/><use id="k13_20" href="#wR" x="1072"/><use id="k13_21" href="#bR" x="1124"/></g>
<g id="row14" transform="translate(0 738)"><use id="k14_1" href="#bL" x="84"/><use id="k14_2" href="#bL" x="136"/><use id="k14_3" href="#bL" x="188"/><use id="k14_4" href="#bL" x="240"/><use id="k14_5" href="#bL" x="292"/><use id="k14_6" href="#wL" x="344"/><use id="k14_7" href="#bL" x="396"/><use id="k14_8" href="#bL" x="448"/><use id="k14_9" href="#wL" x="500"/><use id="k14_10" href="#bL" x="552"/><use id="k14_11" href="#bL" x="604"/><use id="k14_12" href="#bL" x="656"/><use id="k14_13" href="#bL" x="708"/><use id="k14_14" href="#bL" x="760"/><use id="k14_15" href="#bL" x="812"/><use id="k14_16" href="#wL" x="864"/><use id="k14_17" href="#bL" x="916"/><use id="k14_18" href="#bL" x="968"/><use id="k14_19" href="#bL" x="1020"/><use id="k14_20" href="#wL" x="1072"/><use id="k14_21" href="#bL" x="1124"/></g>
<g id="row15" transform="translate(0 790)"><use id="k15_1" href="#bR" x="84"/><use id="k15_2" href="#bR" x="136"/><use id="k15_3" href="#bR" x="188"/><use id="k15_4" href="#bR" x="240"/><use id="k15_5" href="#bR" x="292"/><use id="k15_6" href="#wR" x="344"/><use id="k15_7" href="#bR" x="396"/><use id="k15_8" href="#bR" x="448"/><use id="k15_9" href="#bR" x="500"/><use id="k15_10" href="#wR" x="552"/><use id="k15_11" href="#bR" x="604"/><use id="k15_12" href="#bR" x="656"/><use id="k15_13" href="#bR" x="708"/><use id="k15_14" href="#bR" x="760"/><use id="k15_15" href="#bR" x="812"/><use id="k15_16" href="#wR" x="864"/><use id="k15_17" href="#bR" x="916"/><use id="k15_18" href="#bR" x="968"/><use id="k15_19" href="#bR" x="1020"/><use id="k15_20" href="#wR" x="1072"/><use id="k15_21" href="#bR" x="1124"/></g>
<g id="row16" transform="translate(0 842)"><use id="k16_1" href="#bL" x="84"/><use id="k16_2" href="#bL" x="136"/><use id="k16_3" href="#bL" x="188"/><use id="k16_4" href="#bL" x="240"/><use id="k16_5" href="#bL" x="292"/><use id="k16_6" href="#wL" x="344"/><use id="k16_7" href="#bL" x="396"/><use id="k16_8" href="#bL" x="448"/><use id="k16_9" href="#bL" x="500"/><use id="k16_10" href="#bL" x="552"/><use id="k16_11" href="#wL" x="604"/><use id="k16_12" href="#bL" x="656"/><use id="k16_13" href="#bL" x="708"/><use id="k16_14" href="#bL" x="760"/><use id="k16_15" href="#bL" x="812"/><use id="k16_16" href="#wL" x="864"/><use id="k16_17" href="#bL" x="916"/><use id="k16_18" href="#bL" x="968"/><use id="k16_19" href="#bL" x="1020"/><use id="k16_20" href="#wL" x="1072"/><use id="k16_21" href="#bL" x="1124"/></g>
<g id="row17" transform="translate(0 894)"><use id="k17_1" href="#bR" x="84"/><use id="k17_2" href="#bR" x="136"/><use id="k17_3" href="#bR" x="188"/><use id="k17_4" href="#bR" x="240"/><use id="k17_5" href="#wR" x="292"/><use id="k17_6" href="#bR" x="344"/><use id="k17_7" href="#bR" x="396"/><use id="k17_8" href="#bR" x="448"/><use id="k17_9" href="#bR" x="500"/><use id="k17_10" href="#bR" x="552"/><use id="k17_11" href="#bR" x="604"/><use id="k17_12" href="#bR" x="656"/><use id="k17_13" href="#wR" x="708"/><use id="k17_14" href="#wR" x="760"/><use id="k17_15" href="#wR" x="812"/><use id="k17_16" href="#wR" x="864"/><use id="k17_17" href="#wR" x="916"/><use id="k17_18" href="#wR" x="968"/><use id="k17_19" href="#wR" x="1020"/><use id="k17_20" href="#wR" x="1072"/><use id="k17_21" href="#bR" x="1124"/></g>
<g id="row18" transform="translate(0 946)"><use id="k18_1" href="#bL" x="84"/><use id="k18_2" href="#bL" x="136"/><use id="k18_3" href="#bL" x="188"/><use id="k18_4" href="#bL" x="240"/><use id="k18_5" href="#wL" x="292"/><use id="k18_6" href="#bL" x="344"/><use id="k18_7" href="#bL" x="396"/><use id="k18_8" href="#bL" x="448"/><use id="k18_9" href="#bL" x="500"/><use id="k18_10" href="#bL" x="552"/><use id="k18_11" href="#bL" x="604"/><use id="k18_12" href="#wL" x="656"/><use id="k18_13" href="#wL" x="708"/><use id="k18_14" href="#bL" x="760"/><use id="k18_15" href="#bL" x="812"/><use id="k18_16" href="#bL" x="864"/><use id="k18_17" href="#bL" x="916"/><use id="k18_18" href="#bL" x="968"/><use id="k18_19" href="#bL" x="1020"/><use id="k18_20" href="#bL" x="1072"/><use id="k18_21" href="#bL" x="1124"/></g>
<g id="row19" transform="translate(0 998)"><use id="k19_1" href="#bR" x="84"/><use id="k19_2" href="#bR" x="136"/><use id="k19_3" href="#bR" x="188"/><use id="k19_4" href="#wR" x="240"/><use id="k19_5" href="#bR" x="292"/><use id="k19_6" href="#bR" x="344"/><use id="k19_7" href="#bR" x="396"/><use id="k19_8" href="#bR" x="448"/><use id="k19_9" href="#bR" x="500"/><use id="k19_10" href="#bR" x="552"/><use id="k19_11" href="#wR" x="604"/><use id="k19_12" href="#wR" x="656"/><use id="k19_13" href="#bR" x="708"/><use id="k19_14" href="#bR" x="760"/><use id="k19_15" href="#bR" x="812"/><use id="k19_16" href="#bR" x="864"/><use id="k19_17" href="#bR" x="916"/><use id="k19_18" href="#bR" x="968"/><use id="k19_19" href="#bR" x="1020"/><use id="k19_20" href="#bR" x="1072"/><use id="k19_21" href="#bR" x="1124"/></g>
<g id="row20" transform="translate(0 1050)"><use id="k20_1" href="#bL" x="84"/><use id="k20_2" href="#bL" x="136"/><use id="k20_3" href="#bL" x="188"/><use id="k20_4" href="#wL" x="240"/><use id="k20_5" href="#bL" x="292"/><use id="k20_6" href="#bL" x="344"/><use id="k20_7" href="#bL" x="396"/><use id="k20_8" href="#bL" x="448"/><use id="k20_9" href="#bL" x="500"/><use id="k20_10" href="#bL" x="552"/><use id="k20_11" href="#wL" x="604"/><use id="k20_12" href="#bL" x="656"/><use id="k20_13" href="#bL" x="708"/><use id="k20_14" href="#bL" x="760"/><use id="k20_15" href="#bL" x="812"/><use id="k20_16" href="#bL" x="864"/><use id="k20_17" href="#bL" x="916"/><use id="k20_18" href="#bL" x="968"/><use id="k20_19" href="#bL" x="1020"/><use id="k20_20" href="#bL" x="1072"/><use id="k20_21" href="#bL" x="1124"/></g>
<g id="row21" transform="translate(0 1102)"><use id="k21_1" href="#bR" x="84"/><use id="k21_2" href="#bR" x="136"/><use id="k21_3" href="#wR" x="188"/><use id="k21_4" href="#bR" x="240"/><use id="k21_5" href="#bR" x="292"/><use id="k21_6" href="#bR" x="344"/><use id="k21_7" href="#bR" x="396"/><use id="k21_8" href="#bR" x="448"/><use id="k21_9" href="#bR" x="500"/><use id="k21_10" href="#wR" x="552"/><use id="k21_11" href="#wR" x="604"/><use id="k21_12" href="#bR" x="656"/><use id="k21_13" href="#bR" x="708"/><use id="k21_14" href="#bR" x="760"/><use id="k21_15" href="#bR" x="812"/><use id="k21_16" href="#bR" x="864"/><use id="k21_17" href="#bR" x="916"/><use id="k21_18" href="#bR" x="968"/><use id="k21_19" href="#bR" x="1020"/><use id="k21_20" href="#bR" x="1072"/><use id="k21_21" href="#bR" x="1124"/></g>
<g id="row22" transform="translate(0 1154)"><use id="k22_1" href="#bL" x="84"/><use id="k22_2" href="#bL" x="136"/><use id="k22_3" href="#wL" x="188"/><use id="k22_4" href="#bL" x="240"/><use id="k22_5" href="#bL" x="292"/><use id="k22_6" href="#bL" x="344"/><use id="k22_7" href="#bL" x="396"/><use id="k22_8" href="#bL" x="448"/><use id="k22_9" href="#bL" x="500"/><use id="k22_10" href="#wL" x="552"/><use id="k22_11" href="#bL" x="604"/><use id="k22_12" href="#bL" x="656"/><use id="k22_13" href="#bL" x="708"/><use id="k22_14" href="#bL" x="760"/><use id="k22_15" href="#bL" x="812"/><use id="k22_16" href="#bL" x="864"/><use id="k22_17" href="#bL" x="916"/><use id="k22_18" href="#bL" x="968"/><use id="k22_19" href="#bL" x="1020"/><use id="k22_20" href="#bL" x="1072"/><use id="k22_21" href="#bL" x="1124"/></g>
<g id="row23" transform="translate(0 1206)"><use id="k23_1" href="#bR" x="84"/><use id="k23_2" href="#wR" x="136"/><use id="k23_3" href="#bR" x="188"/><use id="k23_4" href="#bR" x="240"/><use id="k23_5" href="#bR" x="292"/><use id="k23_6" href="#bR" x="344"/><use id="k23_7" href="#bR" x="396"/><use id="k23_8" href="#bR" x="448"/><use id="k23_9" href="#bR" x="500"/><use id="k23_10" href="#wR" x="552"/><use id="k23_11" href="#bR" x="604"/><use id="k23_12" href="#bR" x="656"/><use id="k23_13" href="#bR" x="708"/><use id="k23_14" href="#bR" x="760"/><use id="k23_15" href="#bR" x="812"/><use id="k23_16" href="#bR" x="864"/><use id="k23_17" href="#bR" x="916"/><use id="k23_18" href="#bR" x="968"/><use id="k23_19" href="#bR" x="1020"/><use id="k23_20" href="#bR" x="1072"/><use id="k23_21" href="#bR" x="1124"/></g>
<g id="row24" transform="translate(0 1258)"><use id="k24_1" href="#wL" x="84"/><use id="k24_2" href="#wL" x="136"/><use id="k24_3" href="#wL" x="188"/><use id="k24_4" href="#wL" x="240"/><use id="k24_5" href="#wL" x="292"/><use id="k24_6" href="#wL" x="344"/><use id="k24_7" href="#wL" x="396"/><use id="k24_8" href="#wL" x="448"/><use id="k24_9" href="#wL" x="500"/><use id="k24_10" href="#wL" x="552"/><use id="k24_11" href="#bL" x="604"/><use id="k24_12" href="#bL" x="656"/><use id="k24_13" href="#bL" x="708"/><use id="k24_14" href="#bL" x="760"/><use id="k24_15" href="#bL" x="812"/><use id="k24_16" href="#bL" x="864"/><use id="k24_17" href="#bL" x="916"/><use id="k24_18" href="#bL" x="968"/><use id="k24_19" href="#bL" x="1020"/><use id="k24_20" href="#bL" x="1072"/><use id="k24_21" href="#bL" x="1124"/></g>
<g id="row25" transform="translate(0 1310)"><use id="k25_1" href="#bR" x="84"/><use id="k25_2" href="#bR" x="136"/><use id="k25_3" href="#bR" x="188"/><use id="k25_4" href="#bR" x="240"/><use id="k25_5" href="#bR" x="292"/><use id="k25_6" href="#bR" x="344"/><use id="k25_7" href="#bR" x="396"/><use id="k25_8" href="#bR" x="448"/><use id="k25_9" href="#bR" x="500"/><use id="k25_10" href="#bR" x="552"/><use id="k25_11" href="#bR" x="604"/><use id="k25_12" href="#bR" x="656"/><use id="k25_13" href="#bR" x="708"/><use id="k25_14" href="#bR" x="760"/><use id="k25_15" href="#bR" x="812"/><use id="k25_16" href="#bR" x="864"/><use id="k25_17" href="#bR" x="916"/><use id="k25_18" href="#bR" x="968"/><use id="k25_19" href="#bR" x="1020"/><use id="k25_20" href="#bR" x="1072"/><use id="k25_21" href="#bR" x="1124"/></g>
<g id="row26" transform="translate(0 1362)"><use id="k26_1" href="#bL" x="84"/><use id="k26_2" href="#bL" x="136"/><use id="k26_3" href="#bL" x="188"/><use id="k26_4" href="#bL" x="240"/><use id="k26_5" href="#bL" x="292"/><use id="k26_6" href="#bL" x="344"/><use id="k26_7" href="#bL" x="396"/><use id="k26_8" href="#bL" x="448"/><use id="k26_9" href="#bL" x="500"/><use id="k26_10" href="#bL" x="552"/><use id="k26_11" href="#bL" x="604"/><use id="k26_12" href="#bL" x="656"/><use id="k26_13" href="#bL" x="708"/><use id="k26_14" href="#bL" x="760"/><use id="k26_15" href="#bL" x="812"/><use id="k26_16" href="#bL" x="864"/><use id="k26_17" href="#bL" x="916"/><use id="k26_18" href="#bL" x="968"/><use id="k26_19" href="#bL" x="1020"/><use id="k26_20" href="#bL" x="1072"/><use id="k26_21" href="#bL" x="1124"/></g>
<g id="row27" transform="translate(0 1414)"><use id="k27_1" href="#wR" x="84"/><use id="k27_2" href="#wR" x="136"/><use id="k27_3" href="#wR" x="188"/><use id="k27_4" href="#wR" x="240"/><use id="k27_5" href="#wR" x="292"/><use id="k27_6" href="#wR" x="344"/><use id="k27_7" href="#wR" x="396"/><use id="k27_8" href="#wR" x="448"/><use id="k27_9" href="#wR" x="500"/><use id="k27_10" href="#wR" x="552"/><use id="k27_11" href="#bR" x="604"/><use id="k27_12" href="#bR" x="656"/><use id="k27_13" href="#bR" x="708"/><use id="k27_14" href="#bR" x="760"/><use id="k27_15" href="#bR" x="812"/><use id="k27_16" href="#bR" x="864"/><use id="k27_17" href="#bR" x="916"/><use id="k27_18" href="#bR" x="968"/><use id="k27_19" href="#bR" x="1020"/><use id="k27_20" href="#bR" x="1072"/><use id="k27_21" href="#bR" x="1124"/></g>
<g id="row28" transform="translate(0 1466)"><use id="k28_1" href="#bL" x="84"/><use id="k28_2" href="#wL" x="136"/><use id="k28_3" href="#bL" x="188"/><use id="k28_4" href="#bL" x="240"/><use id="k28_5" href="#bL" x="292"/><use id="k28_6" href="#bL" x="344"/><use id="k28_7" href="#bL" x="396"/><use id="k28_8" href="#bL" x="448"/><use id="k28_9" href="#bL" x="500"/><use id="k28_10" href="#wL" x="552"/><use id="k28_11" href="#bL" x="604"/><use id="k28_12" href="#bL" x="656"/><use id="k28_13" href="#bL" x="708"/><use id="k28_14" href="#bL" x="760"/><use id="k28_15" href="#bL" x="812"/><use id="k28_16" href="#bL" x="864"/><use id="k28_17" href="#bL" x="916"/><use id="k28_18" href="#bL" x="968"/><use id="k28_19" href="#bL" x="1020"/><use id="k28_20" href="#bL" x="1072"/><use id="k28_21" href="#bL" x="1124"/></g>
<g id="row29" transform="translate(0 1518)"><use id="k29_1" href="#bR" x="84"/><use id="k29_2" href="#bR" x="136"/><use id="k29_3" href="#wR" x="188"/><use id="k29_4" href="#bR" x="240"/><use id="k29_5" href="#bR" x="292"/><use id="k29_6" href="#bR" x="344"/><use id="k29_7" href="#bR" x="396"/><use id="k29_8" href="#bR" x="448"/><use id="k29_9" href="#bR" x="500"/><use id="k29_10" href="#wR" x="552"/><use id="k29_11" href="#bR" x="604"/><use id="k29_12" href="#bR" x="656"/><use id="k29_13" href="#bR" x="708"/><use id="k29_14" href="#bR" x="760"/><use id="k29_15" href="#bR" x="812"/><use id="k29_16" href="#bR" x="864"/><use id="k29_17" href="#bR" x="916"/><use id="k29_18" href="#bR" x="968"/><use id="k29_19" href="#bR" x="1020"/><use id="k29_20" href="#bR" x="1072"/><use id="k29_21" href="#bR" x="1124"/></g>
<g id="row30" transform="translate(0 1570)"><use id="k30_1" href="#bL" x="84"/><use id="k30_2" href="#bL" x="136"/><use id="k30_3" href="#wL" x="188"/><use id="k30_4" href="#bL" x="240"/><use id="k30_5" href="#bL" x="292"/><use id="k30_6" href="#bL" x="344"/><use id="k30_7" href="#bL" x="396"/><use id="k30_8" href="#bL" x="448"/><use id="k30_9" href="#bL" x="500"/><use id="k30_10" href="#wL" x="552"/><use id="k30_11" href="#wL" x="604"/><use id="k30_12" href="#bL" x="656"/><use id="k30_13" href="#bL" x="708"/><use id="k30_14" href="#bL" x="760"/><use id="k30_15" href="#bL" x="812"/><use id="k30_16" href="#bL" x="864"/><use id="k30_17" href="#bL" x="916"/><use id="k30_18" href="#bL" x="968"/><use id="k30_19" href="#bL" x="1020"/><use id="k30_20" href="#bL" x="1072"/><use id="k30_21" href="#bL" x="1124"/></g>
<g id="row31" transform="translate(0 1622)"><use id="k31_1" href="#bR" x="84"/><use id="k31_2" href="#bR" x="136"/><use id="k31_3" href="#bR" x="188"/><use id="k31_4" href="#wR" x="240"/><use id="k31_5" href="#bR" x="292"/><use id="k31_6" href="#bR" x="344"/><use id="k31_7" href="#bR" x="396"/><use id="k31_8" href="#bR" x="448"/><use id="k31_9" href="#bR" x="500"/><use id="k31_10" href="#bR" x="552"/><use id="k31_11" href="#wR" x="604"/><use id="k31_12" href="#bR" x="656"/><use id="k31_13" href="#bR" x="708"/><use id="k31_14" href="#bR" x="760"/><use id="k31_15" href="#bR" x="812"/><use id="k31_16" href="#bR" x="864"/><use id="k31_17" href="#bR" x="916"/><use id="k31_18" href="#bR" x="968"/><use id="k31_19" href="#bR" x="1020"/><use id="k31_20" href="#bR" x="1072"/><use id="k31_21" href="#bR" x="1124"/></g>
<g id="row32" transform="translate(0 1674)"><use id="k32_1" href="#bL" x="84"/><use id="k32_2" href="#bL" x="136"/><use id="k32_3" href="#bL" x="188"/><use id="k32_4" href="#wL" x="240"/><use id="k32_5" href="#bL" x="292"/><use id="k32_6" href="#bL" x="344"/><use id="k32_7" href="#bL" x="396"/><use id="k32_8" href="#bL" x="448"/><use id="k32_9" href="#bL" x="500"/><use id="k32_10" href="#bL" x="552"/><use id="k32_11" href="#wL" x="604"/><use id="k32_12" href="#wL" x="656"/><use id="k32_13" href="#bL" x="708"/><use id="k32_14" href="#bL" x="760"/><use id="k32_15" href="#bL" x="812"/><use id="k32_16" href="#bL" x="864"/><use id="k32_17" href="#bL" x="916"/><use id="k32_18" href="#bL" x="968"/><use id="k32_19" href="#bL" x="1020"/><use id="k32_20" href="#bL" x="1072"/><use id="k32_21" href="#bL" x="1124"/></g>
<g id="row33" transform="translate(0 1726)"><use id="k33_1" href="#bR" x="84"/><use id="k33_2" href="#bR" x="136"/><use id="k33_3" href="#bR" x="188"/><use id="k33_4" href="#bR" x="240"/><use id="k33_5" href="#wR" x="292"/><use id="k33_6" href="#bR" x="344"/><use id="k33_7" href="#bR" x="396"/><use id="k33_8" href="#bR" x="448"/><use id="k33_9" href="#bR" x="500"/><use id="k33_10" href="#bR" x="552"/><use id="k33_11" href="#bR" x="604"/><use id="k33_12" href="#wR" x="656"/><use id="k33_13" href="#wR" x="708"/><use id="k33_14" href="#bR" x="760"/><use id="k33_15" href="#bR" x="812"/><use id="k33_16" href="#bR" x="864"/><use id="k33_17" href="#bR" x="916"/><use id="k33_18" href="#bR" x="968"/><use id="k33_19" href="#bR" x="1020"/><use id="k33_20" href="#bR" x="1072"/><use id="k33_21" href="#bR" x="1124"/></g>
<g id="row34" transform="translate(0 1778)"><use id="k34_1" href="#bL" x="84"/><use id="k34_2" href="#bL" x="136"/><use id="k34_3" href="#bL" x="188"/><use id="k34_4" href="#bL" x="240"/><use id="k34_5" href="#wL" x="292"/><use id="k34_6" href="#bL" x="344"/><use id="k34_7" href="#bL" x="396"/><use id="k34_8" href="#bL" x="448"/><use id="k34_9" href="#bL" x="500"/><use id="k34_10" href="#bL" x="552"/><use id="k34_11" href="#bL" x="604"/><use id="k34_12" href="#bL" x="656"/><use id="k34_13" href="#wL" x="708"/><use id="k34_14" href="#wL" x="760"/><use id="k34_15" href="#wL" x="812"/><use id="k34_16" href="#wL" x="864"/><use id="k34_17" href="#wL" x="916"/><use id="k34_18" href="#wL" x="968"/><use id="k34_19" href="#wL" x="1020"/><use id="k34_20" href="#wL" x="1072"/><use id="k34_21" href="#bL" x="1124"/></g>
<g id="row35" transform="translate(0 1830)"><use id="k35_1" href="#bR" x="84"/><use id="k35_2" href="#bR" x="136"/><use id="k35_3" href="#bR" x="188"/><use id="k35_4" href="#bR" x="240"/><use id="k35_5" href="#bR" x="292"/><use id="k35_6" href="#wR" x="344"/><use id="k35_7" href="#bR" x="396"/><use id="k35_8" href="#bR" x="448"/><use id="k35_9" href="#bR" x="500"/><use id="k35_10" href="#bR" x="552"/><use id="k35_11" href="#wR" x="604"/><use id="k35_12" href="#bR" x="656"/><use id="k35_13" href="#bR" x="708"/><use id="k35_14" href="#bR" x="760"/><use id="k35_15" href="#bR" x="812"/><use id="k35_16" href="#wR" x="864"/><use id="k35_17" href="#bR" x="916"/><use id="k35_18" href="#bR" x="968"/><use id="k35_19" href="#bR" x="1020"/><use id="k35_20" href="#wR" x="1072"/><use id="k35_21" href="#bR" x="1124"/></g>
<g id="row36" transform="translate(0 1882)"><use id="k36_1" href="#bL" x="84"/><use id="k36_2" href="#bL" x="136"/><use id="k36_3" href="#bL" x="188"/><use id="k36_4" href="#bL" x="240"/><use id="k36_5" href="#bL" x="292"/><use id="k36_6" href="#wL" x="344"/><use id="k36_7" href="#bL" x="396"/><use id="k36_8" href="#bL" x="448"/><use id="k36_9" href="#bL" x="500"/><use id="k36_10" href="#wL" x="552"/><use id="k36_11" href="#bL" x="604"/><use id="k36_12" href="#bL" x="656"/><use id="k36_13" href="#bL" x="708"/><use id="k36_14" href="#bL" x="760"/><use id="k36_15" href="#bL" x="812"/><use id="k36_16" href="#wL" x="864"/><use id="k36_17" href="#bL" x="916"/><use id="k36_18" href="#bL" x="968"/><use id="k36_19" href="#bL" x="1020"/><use id="k36_20" href="#wL" x="1072"/><use id="k36_21" href="#bL" x="1124"/></g>
<g id="row37" transform="translate(0 1934)"><use id="k37_1" href="#bR" x="84"/><use id="k37_2" href="#bR" x="136"/><use id="k37_3" href="#bR" x="188"/><use id="k37_4" href="#bR" x="240"/><use id="k37_5" href="#bR" x="292"/><use id="k37_6" href="#wR" x="344"/><use id="k37_7" href="#bR" x="396"/><use id="k37_8" href="#bR" x="448"/><use id="k37_9" href="#wR" x="500"/><use id="k37_10" href="#bR" x="552"/><use id="k37_11" href="#bR" x="604"/><use id="k37_12" href="#bR" x="656"/><use id="k37_13" href="#bR" x="708"/><use id="k37_14" href="#bR" x="760"/><use id="k37_15" href="#bR" x="812"/><use id="k37_16" href="#wR" x="864"/><use id="k37_17" href="#bR" x="916"/><use id="k37_18" href="#bR" x="968"/><use id="k37_19" href="#bR" x="1020"/><use id="k37_20" href="#wR" x="1072"/><use id="k37_21" href="#bR" x="1124"/></g>
<g id="row38" transform="translate(0 1986)"><use id="k38_1" href="#bL" x="84"/><use id="k38_2" href="#bL" x="136"/><use id="k38_3" href="#bL" x="188"/><use id="k38_4" href="#bL" x="240"/><use id="k38_5" href="#bL" x="292"/><use id="k38_6" href="#wL" x="344"/><use id="k38_7" href="#bL" x="396"/><use id="k38_8" href="#bL" x="448"/><use id="k38_9" href="#bL" x="500"/><use id="k38_10" href="#bL" x="552"/><use id="k38_11" href="#bL" x="604"/><use id="k38_12" href="#bL" x="656"/><use id="k38_13" href="#bL" x="708"/><use id="k38_14" href="#bL" x="760"/><use id="k38_15" href="#bL" x="812"/><use id="k38_16" href="#wL" x="864"/><use id="k38_17" href="#bL" x="916"/><use id="k38_18" href="#bL" x="968"/><use id="k38_19" href="#bL" x="1020"/><use id="k38_20" href="#wL" x="1072"/><use id="k38_21" href="#bL" x="1124"/></g>
<g id="row39" transform="translate(0 2038)"><use id="k39_1" href="#bR" x="84"/><use id="k39_2" href="#bR" x="136"/><use id="k39_3" href="#bR" x="188"/><use id="k39_4" href="#bR" x="240"/><use id="k39_5" href="#bR" x="292"/><use id="k39_6" href="#wR" x="344"/><use id="k39_7" href="#wR" x="396"/><use id="k39_8" href="#bR" x="448"/><use id="k39_9" href="#bR" x="500"/><use id="k39_10" href="#bR" x="552"/><use id="k39_11" href="#bR" x="604"/><use id="k39_12" href="#bR" x="656"/><use id="k39_13" href="#bR" x="708"/><use id="k39_14" href="#bR" x="760"/><use id="k39_15" href="#bR" x="812"/><use id="k39_16" href="#wR" x="864"/><use id="k39_17" href="#bR" x="916"/><use id="k39_18" href="#bR" x="968"/><use id="k39_19" href="#bR" x="1020"/><use id="k39_20" href="#wR" x="1072"/><use id="k39_21" href="#bR" x="1124"/></g>
<g id="row40" transform="translate(0 2090)"><use id="k40_1" href="#bL" x="84"/><use id="k40_2" href="#bL" x="136"/><use id="k40_3" href="#bL" x="188"/><use id="k40_4" href="#bL" x="240"/><use id="k40_5" href="#bL" x="292"/><use id="k40_6" href="#bL" x="344"/><use id="k40_7" href="#bL" x="396"/><use id="k40_8" href="#wL" x="448"/><use id="k40_9" href="#wL" x="500"/><use id="k40_10" href="#bL" x="552"/><use id="k40_11" href="#bL" x="604"/><use id="k40_12" href="#bL" x="656"/><use id="k40_13" href="#bL" x="708"/><use id="k40_14" href="#bL" x="760"/><use id="k40_15" href="#bL" x="812"/><use id="k40_16" href="#wL" x="864"/><use id="k40_17" href="#bL" x="916"/><use id="k40_18" href="#bL" x="968"/><use id="k40_19" href="#bL" x="1020"/><use id="k40_20" href="#wL" x="1072"/><use id="k40_21" href="#bL" x="1124"/></g>
<g id="row41" transform="translate(0 2142)"><use id="k41_1" href="#bR" x="84"/><use id="k41_2" href="#bR" x="136"/><use id="k41_3" href="#bR" x="188"/><use id="k41_4" href="#bR" x="240"/><use id="k41_5" href="#bR" x="292"/><use id="k41_6" href="#bR" x="344"/><use id="k41_7" href="#bR" x="396"/><use id="k41_8" href="#bR" x="448"/><use id="k41_9" href="#bR" x="500"/><use id="k41_10" href="#wR" x="552"/><use id="k41_11" href="#bR" x="604"/><use id="k41_12" href="#bR" x="656"/><use id="k41_13" href="#bR" x="708"/><use id="k41_14" href="#bR" x="760"/><use id="k41_15" href="#bR" x="812"/><use id="k41_16" href="#wR" x="864"/><use id="k41_17" href="#bR" x="916"/><use id="k41_18" href="#bR" x="968"/><use id="k41_19" href="#bR" x="1020"/><use id="k41_20" href="#wR" x="1072"/><use id="k41_21" href="#bR" x="1124"/></g>
<g id="row42" transform="translate(0 2194)"><use id="k42_1" href="#bL" x="84"/><use id="k42_2" href="#bL" x="136"/><use id="k42_3" href="#bL" x="188"/><use id="k42_4" href="#bL" x="240"/><use id="k42_5" href="#bL" x="292"/><use id="k42_6" href="#bL" x="344"/><use id="k42_7" href="#bL" x="396"/><use id="k42_8" href="#bL" x="448"/><use id="k42_9" href="#bL" x="500"/><use id="k42_10" href="#bL" x="552"/><use id="k42_11" href="#wL" x="604"/><use id="k42_12" href="#bL" x="656"/><use id="k42_13" href="#bL" x="708"/><use id="k42_14" href="#bL" x="760"/><use id="k42_15" href="#bL" x="812"/><use id="k42_16" href="#wL" x="864"/><use id="k42_17" href="#bL" x="916"/><use id="k42_18" href="#bL" x="968"/><use id="k42_19" href="#bL" x="1020"/><use id="k42_20" href="#wL" x="1072"/><use id="k42_21" href="#bL" x="1124"/></g>
<g id="row43" transform="translate(0 2246)"><use id="k43_1" href="#bR" x="84"/><use id="k43_2" href="#bR" x="136"/><use id="k43_3" href="#bR" x="188"/><use id="k43_4" href="#bR" x="240"/><use id="k43_5" href="#bR" x="292"/><use id="k43_6" href="#bR" x="344"/><use id="k43_7" href="#bR" x="396"/><use id="k43_8" href="#bR" x="448"/><use id="k43_9" href="#bR" x="500"/><use id="k43_10" href="#bR" x="552"/><use id="k43_11" href="#wR" x="604"/><use id="k43_12" href="#bR" x="656"/><use id="k43_13" href="#bR" x="708"/><use id="k43_14" href="#bR" x="760"/><use id="k43_15" href="#bR" x="812"/><use id="k43_16" href="#bR" x="864"/><use id="k43_17" href="#bR" x="916"/><use id="k43_18" href="#bR" x="968"/><use id="k43_19" href="#bR" x="1020"/><use id="k43_20" href="#wR" x="1072"/><use id="k43_21" href="#bR" x="1124"/></g>
<g id="row44" transform="translate(0 2298)"><use id="k44_1" href="#bL" x="84"/><use id="k44_2" href="#bL" x="136"/><use id="k44_3" href="#bL" x="188"/><use id="k44_4" href="#bL" x="240"/><use id="k44_5" href="#bL" x="292"/><use id="k44_6" href="#bL" x="344"/><use id="k44_7" href="#bL" x="396"/><use id="k44_8" href="#bL" x="448"/><use id="k44_9" href="#bL" x="500"/><use id="k44_10" href="#bL" x="552"/><use id="k44_11" href="#wL" x="604"/><use id="k44_12" href="#bL" x="656"/><use id="k44_13" href="#bL" x="708"/><use id="k44_14" href="#bL" x="760"/><use id="k44_15" href="#bL" x="812"/><use id="k44_16" href="#bL" x="864"/><use id="k44_17" href="#bL" x="916"/><use id="k44_18" href="#bL" x="968"/><use id="k44_19" href="#bL" x="1020"/><use id="k44_20" href="#wL" x="1072"/><use id="k44_21" href="#bL" x="1124"/></g>
<g id="row45" transform="translate(0 2350)"><use id="k45_1" href="#bR" x="84"/><use id="k45_2" href="#bR" x="136"/><use id="k45_3" href="#bR" x="188"/><use id="k45_4" href="#bR" x="240"/><use id="k45_5" href="#bR" x="292"/><use id="k45_6" href="#bR" x="344"/><use id="k45_7" href="#bR" x="396"/><use id="k45_8" href="#bR" x="448"/><use id="k45_9" href="#bR" x="500"/><use id="k45_10" href="#bR" x="552"/><use id="k45_11" href="#bR" x="604"/><use id="k45_12" href="#wR" x="656"/><use id="k45_13" href="#wR" x="708"/><use id="k45_14" href="#wR" x="760"/><use id="k45_15" href="#wR" x="812"/><use id="k45_16" href="#wR" x="864"/><use id="k45_17" href="#bR" x="916"/><use id="k45_18" href="#bR" x="968"/><use id="k45_19" href="#bR" x="1020"/><use id="k45_20" href="#wR" x="1072"/><use id="k45_21" href="#bR" x="1124"/></g>
<g id="row46" transform="translate(0 2402)"><use id="k46_1" href="#bL" x="84"/><use id="k46_2" href="#bL" x="136"/><use id="k46_3" href="#bL" x="188"/><use id="k46_4" href="#bL" x="240"/><use id="k46_5" href="#bL" x="292"/><use id="k46_6" href="#bL" x="344"/><use id="k46_7" href="#bL" x="396"/><use id="k46_8" href="#bL" x="448"/><use id="k46_9" href="#bL" x="500"/><use id="k46_10" href="#bL" x="552"/><use id="k46_11" href="#bL" x="604"/><use id="k46_12" href="#bL" x="656"/><use id="k46_13" href="#bL" x="708"/><use id="k46_14" href="#bL" x="760"/><use id="k46_15" href="#bL" x="812"/><use id="k46_16" href="#bL" x="864"/><use id="k46_17" href="#wL" x="916"/><use id="k46_18" href="#bL" x="968"/><use id="k46_19" href="#bL" x="1020"/><use id="k46_20" href="#wL" x="1072"/><use id="k46_21" href="#bL" x="1124"/></g>
<g id="row47" transform="translate(0 2454)"><use id="k47_1" href="#bR" x="84"/><use id="k47_2" href="#bR" x="136"/><use id="k47_3" href="#bR" x="188"/><use id="k47_4" href="#bR" x="240"/><use id="k47_5" href="#bR" x="292"/><use id="k47_6" href="#bR" x="344"/><use id="k47_7" href="#bR" x="396"/><use id="k47_8" href="#bR" x="448"/><use id="k47_9" href="#bR" x="500"/><use id="k47_10" href="#bR" x="552"/><use id="k47_11" href="#bR" x="604"/><use id="k47_12" href="#bR" x="656"/><use id="k47_13" href="#bR" x="708"/><use id="k47_14" href="#bR" x="760"/><use id="k47_15" href="#bR" x="812"/><use id="k47_16" href="#bR" x="864"/><use id="k47_17" href="#bR" x="916"/><use id="k47_18" href="#wR" x="968"/><use id="k47_19" href="#bR" x="1020"/><use id="k47_20" href="#wR" x="1072"/><use id="k47_21" href="#bR" x="1124"/></g>
<g id="row48" transform="translate(0 2506)"><use id="k48_1" href="#bL" x="84"/><use id="k48_2" href="#bL" x="136"/><use id="k48_3" href="#bL" x="188"/><use id="k48_4" href="#bL" x="240"/><use id="k48_5" href="#bL" x="292"/><use id="k48_6" href="#bL" x="344"/><use id="k48_7" href="#bL" x="396"/><use id="k48_8" href="#bL" x="448"/><use id="k48_9" href="#bL" x="500"/><use id="k48_10" href="#bL" x="552"/><use id="k48_11" href="#bL" x="604"/><use id="k48_12" href="#bL" x="656"/><use id="k48_13" href="#bL" x="708"/><use id="k48_14" href="#bL" x="760"/><use id="k48_15" href="#bL" x="812"/><use id="k48_16" href="#bL" x="864"/><use id="k48_17" href="#bL" x="916"/><use id="k48_18" href="#bL" x="968"/><use id="k48_19" href="#wL" x="1020"/><use id="k48_20" href="#wL" x="1072"/><use id="k48_21" href="#bL" x="1124"/></g>
<g id="row49" transform="translate(0 2558)"><use id="k49_1" href="#bR" x="84"/><use id="k49_2" href="#bR" x="136"/><use id="k49_3" href="#bR" x="188"/><use id="k49_4" href="#bR" x="240"/><use id="k49_5" href="#bR" x="292"/><use id="k49_6" href="#bR" x="344"/><use id="k49_7" href="#bR" x="396"/><use id="k49_8" href="#bR" x="448"/><use id="k49_9" href="#bR" x="500"/><use id="k49_10" href="#bR" x="552"/><use id="k49_11" href="#bR" x="604"/><use id="k49_12" href="#bR" x="656"/><use id="k49_13" href="#bR" x="708"/><use id="k49_14" href="#bR" x="760"/><use id="k49_15" href="#bR" x="812"/><use id="k49_16" href="#bR" x="864"/><use id="k49_17" href="#bR" x="916"/><use id="k49_18" href="#bR" x="968"/><use id="k49_19" href="#bR" x="1020"/><use id="k49_20" href="#wR" x="1072"/><use id="k49_21" href="#bR" x="1124"/></g>
<g id="row50" transform="translate(0 2610)"><use id="k50_1" href="#bL" x="84"/><use id="k50_2" href="#bL" x="136"/><use id="k50_3" href="#bL" x="188"/><use id="k50_4" href="#bL" x="240"/><use id="k50_5" href="#bL" x="292"/><use id="k50_6" href="#bL" x="344"/><use id="k50_7" href="#bL" x="396"/><use id="k50_8" href="#bL" x="448"/><use id="k50_9" href="#bL" x="500"/><use id="k50_10" href="#bL" x="552"/><use id="k50_11" href="#bL" x="604"/><use id="k50_12" href="#bL" x="656"/><use id="k50_13" href="#bL" x="708"/><use id="k50_14" href="#bL" x="760"/><use id="k50_15" href="#bL" x="812"/><use id="k50_16" href="#bL" x="864"/><use id="k50_17" href="#bL" x="916"/><use id="k50_18" href="#bL" x="968"/><use id="k50_19" href="#bL" x="1020"/><use id="k50_20" href="#bL" x="1072"/><use id="k50_21" href="#wL" x="1124"/></g>
</g>
<text id="watermark" x="604" y="1341" text-anchor="middle" font-family="Liberation Sans,Arial,sans-serif" font-size="14" font-weight="bold" fill="#444" stroke="#fff" stroke-width="0.6" paint-order="stroke">BRACELETBOOK.COM</text>
</svg>
